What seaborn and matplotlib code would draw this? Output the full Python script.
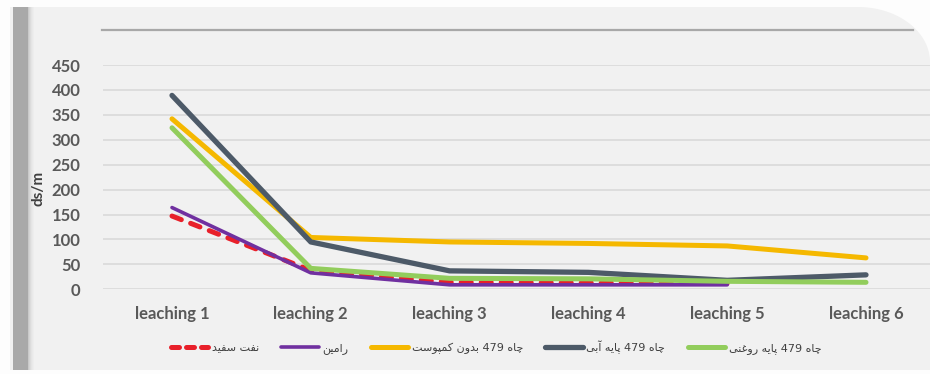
import re
import numpy as np
import pandas as pd
import matplotlib
matplotlib.use("Agg")
import matplotlib.pyplot as plt
import seaborn as sns
from matplotlib.patches import Rectangle, PathPatch
from matplotlib.path import Path
from matplotlib.lines import Line2D

# ---- data ----
categories = ["leaching 1", "leaching 2", "leaching 3", "leaching 4", "leaching 5", "leaching 6"]
naft_sefid = [147, 38, 14, 13, 12]
ramin = [164, 33, 9, 9, 9]
chah_bedun_kompost = [342, 104, 95, 92, 87, 63]
chah_paye_abi = [389, 95, 37, 34, 18, 29]
chah_paye_roghani = [324, 42, 22, 21, 16, 14]
series_names = ["نفت سفید", "رامین", "چاه 479 بدون کمپوست", "چاه 479 پایه آبی", "چاه 479 پایه روغنی"]
y_ticks = [0, 50, 100, 150, 200, 250, 300, 350, 400, 450]
y_label = "ds/m"

# ---- minimal Persian shaping (contextual forms + visual order) ----
DUAL = {
    'ن': ('\uFEE5', '\uFEE6', '\uFEE7', '\uFEE8'),
    'ف': ('\uFED1', '\uFED2', '\uFED3', '\uFED4'),
    'ت': ('\uFE95', '\uFE96', '\uFE97', '\uFE98'),
    'س': ('\uFEB1', '\uFEB2', '\uFEB3', '\uFEB4'),
    'ی': ('\uFBFC', '\uFBFD', '\uFBFE', '\uFBFF'),
    'م': ('\uFEE1', '\uFEE2', '\uFEE3', '\uFEE4'),
    'چ': ('\uFB7A', '\uFB7B', '\uFB7C', '\uFB7D'),
    'ه': ('\uFEE9', '\uFEEA', '\uFEEB', '\uFEEC'),
    'ب': ('\uFE8F', '\uFE90', '\uFE91', '\uFE92'),
    'ک': ('\uFB8E', '\uFB8F', '\uFB90', '\uFB91'),
    'پ': ('\uFB56', '\uFB57', '\uFB58', '\uFB59'),
    'غ': ('\uFECD', '\uFECE', '\uFECF', '\uFED0'),
}
RIGHT = {
    'د': ('\uFEA9', '\uFEAA'),
    'ر': ('\uFEAD', '\uFEAE'),
    'ا': ('\uFE8D', '\uFE8E'),
    'و': ('\uFEED', '\uFEEE'),
    'آ': ('\uFE81', '\uFE82'),
}


def shape_fa(text):
    out = []
    n = len(text)
    for i, ch in enumerate(text):
        prev = text[i - 1] if i > 0 else ''
        nxt = text[i + 1] if i < n - 1 else ''
        jp = prev in DUAL and (ch in DUAL or ch in RIGHT)
        if ch in DUAL:
            jn = nxt in DUAL or nxt in RIGHT
            iso, fin, ini, med = DUAL[ch]
            out.append(med if (jp and jn) else fin if jp else ini if jn else iso)
        elif ch in RIGHT:
            iso, fin = RIGHT[ch]
            out.append(fin if jp else iso)
        else:
            out.append(ch)
    tokens = re.findall(r'\d+|\D', ''.join(out))
    return ''.join(reversed(tokens))


# ---- figure ----
W, H = 930, 374
fig = plt.figure(figsize=(W / 100, H / 100), dpi=100)
fig.patch.set_facecolor('#fdfdfd')

def fx(px):
    return px / W

def fy(py):
    return 1 - py / H

# light panel with rounded top-right corner
cx, cy, rx, ry = 858, 62, 72, 55
t = np.linspace(0, np.pi / 2, 40)
arc = [(fx(cx + rx * np.sin(a)), fy(cy - ry * np.cos(a))) for a in t]
verts = [(fx(10), fy(370)), (fx(10), fy(7))] + arc + [(fx(930), fy(370)), (fx(10), fy(370))]
codes = [Path.MOVETO] + [Path.LINETO] * (len(verts) - 2) + [Path.CLOSEPOLY]
fig.patches.append(PathPatch(Path(verts, codes), transform=fig.transFigure,
                             facecolor='#f1f1f1', edgecolor='none', zorder=-3))
# left accent bar with soft shading
fig.patches.append(Rectangle((fx(13), fy(370)), fx(15), fy(7) - fy(370),
                             transform=fig.transFigure, facecolor='#a9a9a9',
                             edgecolor='none', zorder=-2))
for k, a in enumerate([0.55, 0.4, 0.28, 0.18, 0.1, 0.05]):
    fig.patches.append(Rectangle((fx(28 + k), fy(370)), fx(1.2), fy(7) - fy(370),
                                 transform=fig.transFigure, facecolor='#a9a9a9',
                                 alpha=a, edgecolor='none', zorder=-2))
# thin rule above the plot
fig.lines.append(Line2D([fx(102), fx(913)], [fy(30), fy(30)], transform=fig.transFigure,
                        color='#a8a8a8', lw=1.6, zorder=-1))

sns.set_style("white")
plt.rcParams['font.family'] = ['Lato', 'DejaVu Sans']

left, right = 102.6, 935.4
ax = fig.add_axes([fx(left), fy(289.3), fx(right - left), (289.3 - 65) / H])
ax.set_facecolor('none')
ax.set_zorder(1)

series = [naft_sefid, ramin, chah_bedun_kompost, chah_paye_abi, chah_paye_roghani]
colors = ['#e8202a', '#7030a0', '#f5b800', '#4d5a68', '#92cd5c']
widths = [3.6, 2.6, 3.6, 3.8, 3.6]

handles = []
for vals, name, col, lw in zip(series, series_names, colors, widths):
    df = pd.DataFrame({'pos': np.arange(len(vals)), 'val': vals})
    sns.lineplot(data=df, x='pos', y='val', ax=ax, color=col, lw=lw, zorder=3,
                 solid_capstyle='round')
    line = ax.lines[-1]
    if name == series_names[0]:
        line.set_dashes([2.0, 2.0])
        line.set_dash_capstyle('round')
    handles.append(Line2D([], [], color=col, lw=lw,
                          dashes=[1.6, 1.4] if name == series_names[0] else (None, None),
                          dash_capstyle='round', solid_capstyle='round'))

ax.set_xlim(-0.5, len(categories) - 0.5)
ax.set_ylim(0, 450)
ax.set_xticks(range(len(categories)))
ax.set_xticklabels(categories)
ax.set_yticks(y_ticks)
ax.set_xlabel('')
ax.set_ylabel(y_label, fontsize=11, fontweight='bold', color='#404040')
ax.grid(axis='y', color='#d9d9d9', lw=1.2)
ax.set_axisbelow(True)
for s in ax.spines.values():
    s.set_visible(False)
ax.tick_params(axis='both', length=0, colors='#595959', labelsize=12)
ax.tick_params(axis='y', pad=16)
ax.tick_params(axis='x', pad=12)
for lab in ax.get_xticklabels() + ax.get_yticklabels():
    lab.set_fontweight('bold')
ax.yaxis.set_label_coords(-(left - 45) / (right - left), (289.3 - 188) / (289.3 - 65))

leg = fig.legend(handles, [shape_fa(s) for s in series_names], loc='center',
                 bbox_to_anchor=(fx(496), fy(347)), ncol=5, frameon=False,
                 handlelength=3.4, handletextpad=0.3, columnspacing=2.0,
                 prop={'family': ['DejaVu Sans'], 'size': 8})
for txt in leg.get_texts():
    txt.set_color('#404040')

fig.savefig('out.png', dpi=100, facecolor=fig.get_facecolor())
